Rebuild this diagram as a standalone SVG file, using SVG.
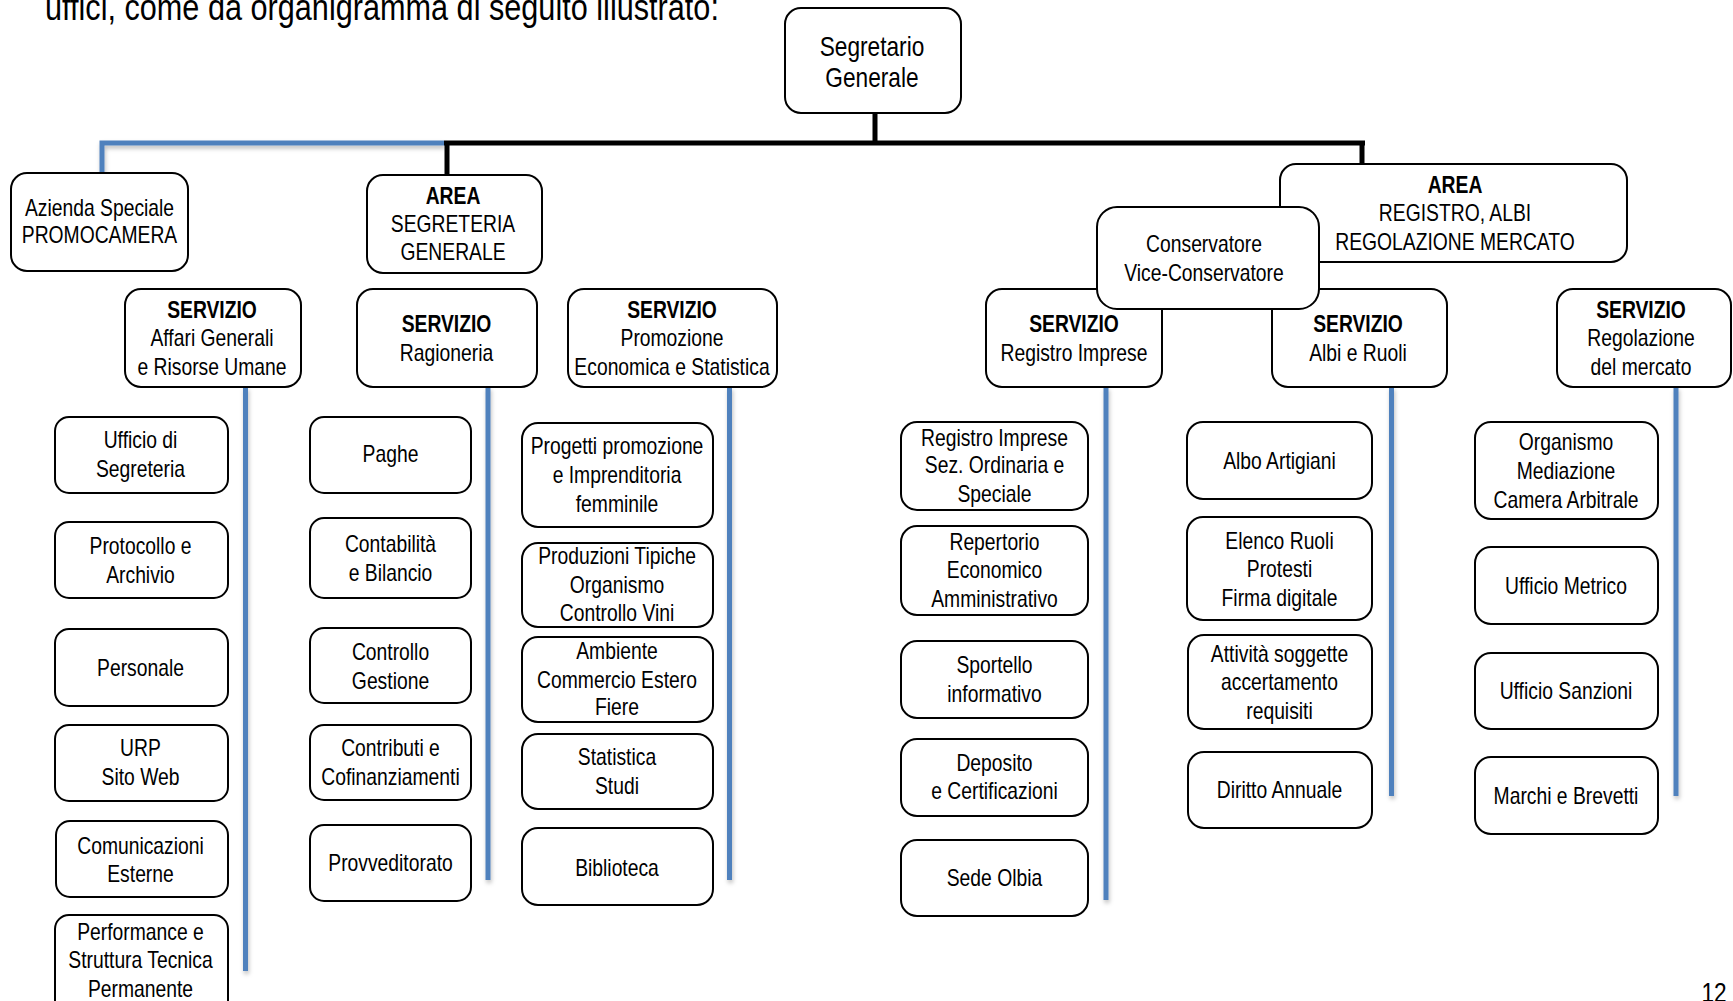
<svg xmlns="http://www.w3.org/2000/svg" width="1733" height="1001" viewBox="0 0 1733 1001">
  <style>
    .box { fill: #ffffff; stroke: #000000; stroke-width: 2; }
    .t { font-family: "Liberation Sans", Arial, sans-serif; font-size: 23px; fill: #000000; text-anchor: middle; }
    .b { font-weight: bold; }
    .big { font-size: 27px; }
    .head { font-size: 36.5px; text-anchor: start; }
    .blk { fill: none; stroke: #000000; stroke-width: 5; }
    .blu { fill: none; stroke: #4F81BD; stroke-width: 5; filter: url(#sh); }
  </style>
  <defs>
    <!-- soft drop shadow for the blue staff lines -->
    <filter id="sh" filterUnits="userSpaceOnUse" x="0" y="0" width="1733" height="1001">
      <feDropShadow dx="1" dy="3" stdDeviation="2" flood-color="#000000" flood-opacity="0.25"/>
    </filter>
  </defs>
  <rect width="1733" height="1001" fill="#ffffff"/>

  <!-- text is drawn condensed: each label group is centred then squeezed horizontally -->
  <g transform="translate(45 0) scale(.84 1)">
    <text class="t head" y="20">uffici, come da organigramma di seguito illustrato:</text>
  </g>

  <!-- connectors -->
  <g id="connectors">
    <path class="blu" d="M444,143 H102 V173"/>
    <path class="blk" d="M875,113 V143 M444,143 H1365 M447,143 V175 M1362,143 V164"/>
    <path class="blu" d="M245.5,387 V971"/>
    <path class="blu" d="M488,387 V880"/>
    <path class="blu" d="M729.5,387 V880"/>
    <path class="blu" d="M1106,387 V900"/>
    <path class="blu" d="M1391.5,387 V796"/>
    <path class="blu" d="M1676,387 V796"/>
  </g>

  <!-- top level -->
  <g id="segretario">
    <rect class="box" x="785" y="8" width="176" height="105" rx="16"/>
    <g transform="translate(872 0) scale(.84 1)">
      <text class="t big" y="56">Segretario</text>
      <text class="t big" y="87.5">Generale</text>
    </g>
  </g>
  <g id="azienda">
    <rect class="box" x="11" y="173" width="177" height="98" rx="16"/>
    <g transform="translate(99.5 0) scale(.84 1)">
      <text class="t" y="216">Azienda Speciale</text>
      <text class="t" y="243.5">PROMOCAMERA</text>
    </g>
  </g>
  <g id="area-segreteria">
    <rect class="box" x="367" y="175" width="175" height="98" rx="16"/>
    <g transform="translate(453 0) scale(.84 1)">
      <text class="t b" y="203.7">AREA</text>
      <text class="t" y="232.5">SEGRETERIA</text>
      <text class="t" y="260">GENERALE</text>
    </g>
  </g>
  <g id="area-registro">
    <rect class="box" x="1280" y="164" width="347" height="98" rx="16"/>
    <g transform="translate(1455 0) scale(.84 1)">
      <text class="t b" y="192.7">AREA</text>
      <text class="t" y="221.4">REGISTRO, ALBI</text>
      <text class="t" y="250">REGOLAZIONE MERCATO</text>
    </g>
  </g>

  <!-- servizi -->
  <g id="srv-affari">
    <rect class="box" x="125" y="289" width="176" height="98" rx="16"/>
    <g transform="translate(212 0) scale(.84 1)">
      <text class="t b" y="317.6">SERVIZIO</text>
      <text class="t" y="346.3">Affari Generali</text>
      <text class="t" y="375">e Risorse Umane</text>
    </g>
  </g>
  <g id="srv-ragioneria">
    <rect class="box" x="357" y="289" width="180" height="98" rx="16"/>
    <g transform="translate(446.5 0) scale(.84 1)">
      <text class="t b" y="332">SERVIZIO</text>
      <text class="t" y="360.7">Ragioneria</text>
    </g>
  </g>
  <g id="srv-promozione">
    <rect class="box" x="568" y="289" width="209" height="98" rx="16"/>
    <g transform="translate(672 0) scale(.84 1)">
      <text class="t b" y="317.6">SERVIZIO</text>
      <text class="t" y="346.3">Promozione</text>
      <text class="t" y="375">Economica e Statistica</text>
    </g>
  </g>
  <g id="srv-registro">
    <rect class="box" x="986" y="289" width="176" height="98" rx="16"/>
    <g transform="translate(1074 0) scale(.84 1)">
      <text class="t b" y="332">SERVIZIO</text>
      <text class="t" y="360.7">Registro Imprese</text>
    </g>
  </g>
  <g id="srv-albi">
    <rect class="box" x="1272" y="289" width="175" height="98" rx="16"/>
    <g transform="translate(1358 0) scale(.84 1)">
      <text class="t b" y="332">SERVIZIO</text>
      <text class="t" y="360.7">Albi e Ruoli</text>
    </g>
  </g>
  <g id="srv-regolazione">
    <rect class="box" x="1557" y="289" width="174" height="98" rx="16"/>
    <g transform="translate(1641 0) scale(.84 1)">
      <text class="t b" y="317.6">SERVIZIO</text>
      <text class="t" y="346.3">Regolazione</text>
      <text class="t" y="375">del mercato</text>
    </g>
  </g>
  <g id="conservatore">
    <rect class="box" x="1097" y="207" width="222" height="102" rx="20"/>
    <g transform="translate(1204 0) scale(.84 1)">
      <text class="t" y="252">Conservatore</text>
      <text class="t" y="281.5">Vice-Conservatore</text>
    </g>
  </g>

  <!-- Affari Generali offices -->
  <g id="ufficio-segreteria">
    <rect class="box" x="55" y="417" width="173" height="76" rx="14"/>
    <g transform="translate(140.5 0) scale(.84 1)">
      <text class="t" y="448">Ufficio di</text>
      <text class="t" y="476.7">Segreteria</text>
    </g>
  </g>
  <g id="protocollo">
    <rect class="box" x="55" y="522" width="173" height="76" rx="14"/>
    <g transform="translate(140.5 0) scale(.84 1)">
      <text class="t" y="554">Protocollo e</text>
      <text class="t" y="582.8">Archivio</text>
    </g>
  </g>
  <g id="personale">
    <rect class="box" x="55" y="629" width="173" height="77" rx="14"/>
    <g transform="translate(140.5 0) scale(.84 1)">
      <text class="t" y="675.7">Personale</text>
    </g>
  </g>
  <g id="urp">
    <rect class="box" x="55" y="725" width="173" height="76" rx="14"/>
    <g transform="translate(140.5 0) scale(.84 1)">
      <text class="t" y="756.3">URP</text>
      <text class="t" y="785">Sito Web</text>
    </g>
  </g>
  <g id="comunicazioni">
    <rect class="box" x="56" y="821" width="172" height="76" rx="14"/>
    <g transform="translate(140.5 0) scale(.84 1)">
      <text class="t" y="853.6">Comunicazioni</text>
      <text class="t" y="882.3">Esterne</text>
    </g>
  </g>
  <g id="performance">
    <rect class="box" x="55" y="915" width="173" height="100" rx="14"/>
    <g transform="translate(140.5 0) scale(.84 1)">
      <text class="t" y="939.8">Performance e</text>
      <text class="t" y="968.5">Struttura Tecnica</text>
      <text class="t" y="997.3">Permanente</text>
    </g>
  </g>

  <!-- Ragioneria offices -->
  <g id="paghe">
    <rect class="box" x="310" y="417" width="161" height="76" rx="14"/>
    <g transform="translate(390.5 0) scale(.84 1)">
      <text class="t" y="462.4">Paghe</text>
    </g>
  </g>
  <g id="contabilita">
    <rect class="box" x="310" y="518" width="161" height="80" rx="14"/>
    <g transform="translate(390.5 0) scale(.84 1)">
      <text class="t" y="552">Contabilità</text>
      <text class="t" y="580.6">e Bilancio</text>
    </g>
  </g>
  <g id="controllo-gestione">
    <rect class="box" x="310" y="628" width="161" height="75" rx="14"/>
    <g transform="translate(390.5 0) scale(.84 1)">
      <text class="t" y="660">Controllo</text>
      <text class="t" y="689">Gestione</text>
    </g>
  </g>
  <g id="contributi">
    <rect class="box" x="310" y="725" width="161" height="75" rx="14"/>
    <g transform="translate(390.5 0) scale(.84 1)">
      <text class="t" y="756.3">Contributi e</text>
      <text class="t" y="785">Cofinanziamenti</text>
    </g>
  </g>
  <g id="provveditorato">
    <rect class="box" x="310" y="825" width="161" height="76" rx="14"/>
    <g transform="translate(390.5 0) scale(.84 1)">
      <text class="t" y="871.3">Provveditorato</text>
    </g>
  </g>

  <!-- Promozione offices -->
  <g id="progetti">
    <rect class="box" x="522" y="423" width="191" height="104" rx="16"/>
    <g transform="translate(617 0) scale(.84 1)">
      <text class="t" y="454.3">Progetti promozione</text>
      <text class="t" y="483">e Imprenditoria</text>
      <text class="t" y="511.7">femminile</text>
    </g>
  </g>
  <g id="produzioni">
    <rect class="box" x="522" y="543" width="191" height="84" rx="16"/>
    <g transform="translate(617 0) scale(.84 1)">
      <text class="t" y="564">Produzioni Tipiche</text>
      <text class="t" y="592.8">Organismo</text>
      <text class="t" y="621.5">Controllo Vini</text>
    </g>
  </g>
  <g id="ambiente">
    <rect class="box" x="522" y="637" width="191" height="85" rx="16"/>
    <g transform="translate(617 0) scale(.84 1)">
      <text class="t" y="659">Ambiente</text>
      <text class="t" y="687.8">Commercio Estero</text>
      <text class="t" y="715.5">Fiere</text>
    </g>
  </g>
  <g id="statistica">
    <rect class="box" x="522" y="734" width="191" height="75" rx="16"/>
    <g transform="translate(617 0) scale(.84 1)">
      <text class="t" y="765.2">Statistica</text>
      <text class="t" y="794">Studi</text>
    </g>
  </g>
  <g id="biblioteca">
    <rect class="box" x="522" y="828" width="191" height="77" rx="16"/>
    <g transform="translate(617 0) scale(.84 1)">
      <text class="t" y="875.7">Biblioteca</text>
    </g>
  </g>

  <!-- Registro Imprese offices -->
  <g id="ri-sezioni">
    <rect class="box" x="901" y="422" width="187" height="88" rx="16"/>
    <g transform="translate(994.5 0) scale(.84 1)">
      <text class="t" y="445.8">Registro Imprese</text>
      <text class="t" y="473.4">Sez. Ordinaria e</text>
      <text class="t" y="502">Speciale</text>
    </g>
  </g>
  <g id="repertorio">
    <rect class="box" x="901" y="526" width="187" height="89" rx="16"/>
    <g transform="translate(994.5 0) scale(.84 1)">
      <text class="t" y="549.7">Repertorio</text>
      <text class="t" y="578.4">Economico</text>
      <text class="t" y="607">Amministrativo</text>
    </g>
  </g>
  <g id="sportello">
    <rect class="box" x="901" y="641" width="187" height="77" rx="16"/>
    <g transform="translate(994.5 0) scale(.84 1)">
      <text class="t" y="673.4">Sportello</text>
      <text class="t" y="702">informativo</text>
    </g>
  </g>
  <g id="deposito">
    <rect class="box" x="901" y="739" width="187" height="77" rx="16"/>
    <g transform="translate(994.5 0) scale(.84 1)">
      <text class="t" y="770.7">Deposito</text>
      <text class="t" y="799.4">e Certificazioni</text>
    </g>
  </g>
  <g id="sede-olbia">
    <rect class="box" x="901" y="840" width="187" height="76" rx="16"/>
    <g transform="translate(994.5 0) scale(.84 1)">
      <text class="t" y="885.7">Sede Olbia</text>
    </g>
  </g>

  <!-- Albi e Ruoli offices -->
  <g id="albo-artigiani">
    <rect class="box" x="1187" y="422" width="185" height="77" rx="16"/>
    <g transform="translate(1279.5 0) scale(.84 1)">
      <text class="t" y="469">Albo Artigiani</text>
    </g>
  </g>
  <g id="elenco-ruoli">
    <rect class="box" x="1187" y="517" width="185" height="103" rx="16"/>
    <g transform="translate(1279.5 0) scale(.84 1)">
      <text class="t" y="548.6">Elenco Ruoli</text>
      <text class="t" y="577.3">Protesti</text>
      <text class="t" y="606">Firma digitale</text>
    </g>
  </g>
  <g id="attivita">
    <rect class="box" x="1188" y="635" width="184" height="94" rx="16"/>
    <g transform="translate(1279.5 0) scale(.84 1)">
      <text class="t" y="662.4">Attività soggette</text>
      <text class="t" y="690">accertamento</text>
      <text class="t" y="718.8">requisiti</text>
    </g>
  </g>
  <g id="diritto-annuale">
    <rect class="box" x="1188" y="752" width="184" height="76" rx="16"/>
    <g transform="translate(1279.5 0) scale(.84 1)">
      <text class="t" y="798.3">Diritto Annuale</text>
    </g>
  </g>

  <!-- Regolazione del mercato offices -->
  <g id="organismo-mediazione">
    <rect class="box" x="1475" y="422" width="183" height="97" rx="16"/>
    <g transform="translate(1566 0) scale(.84 1)">
      <text class="t" y="450.2">Organismo</text>
      <text class="t" y="479">Mediazione</text>
      <text class="t" y="507.7">Camera Arbitrale</text>
    </g>
  </g>
  <g id="ufficio-metrico">
    <rect class="box" x="1475" y="547" width="183" height="77" rx="16"/>
    <g transform="translate(1566 0) scale(.84 1)">
      <text class="t" y="593.9">Ufficio Metrico</text>
    </g>
  </g>
  <g id="ufficio-sanzioni">
    <rect class="box" x="1475" y="653" width="183" height="76" rx="16"/>
    <g transform="translate(1566 0) scale(.84 1)">
      <text class="t" y="698.9">Ufficio Sanzioni</text>
    </g>
  </g>
  <g id="marchi-brevetti">
    <rect class="box" x="1475" y="757" width="183" height="77" rx="16"/>
    <g transform="translate(1566 0) scale(.84 1)">
      <text class="t" y="803.9">Marchi e Brevetti</text>
    </g>
  </g>

  <g transform="translate(1714 0) scale(.84 1)">
    <text class="t big" y="1002">12</text>
  </g>
</svg>
